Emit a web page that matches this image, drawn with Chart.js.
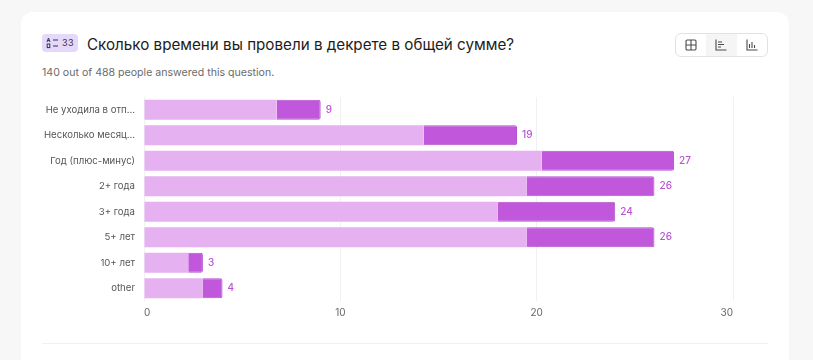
<!DOCTYPE html>
<html lang="ru">
<head>
<meta charset="utf-8">
<title>Сколько времени вы провели в декрете</title>
<script src="https://cdn.jsdelivr.net/npm/chart.js@4"></script>
<style>
    html, body { margin: 0; width: 813px; height: 360px; overflow: hidden; background: #f7f7f7; font-family: Inter, "Noto Sans", sans-serif; }
    .card { position: absolute; left: 21px; top: 12px; width: 768px; height: 360px; background: #fff; border-radius: 12px; }
    .badge { position: absolute; left: 42px; top: 34px; width: 36px; height: 18px; background: #e4d9fb; border-radius: 4px; color: #3a3350; font-size: 9px; line-height: 18px; letter-spacing: 0.4px; }
    .badge svg { position: absolute; left: 4px; top: 3px; }
    .badge span { position: absolute; left: 20px; top: 0; }
    .title { position: absolute; left: 87px; top: 34px; font-size: 15.2px; line-height: 21px; color: #1d1c21; white-space: nowrap; }
    .sub { position: absolute; left: 42px; top: 65px; font-size: 10.6px; line-height: 15px; color: #6b6b6b; white-space: nowrap; }
    .switch { position: absolute; left: 675px; top: 33px; width: 91px; height: 22px; border: 1px solid #e2e2e2; border-radius: 6px; display: flex; overflow: hidden; background: #fff; }
    .switch div { flex: 1; display: flex; align-items: center; justify-content: center; }
    .switch .on { background: #f5f5f5; }
    .rule { position: absolute; left: 42px; top: 343px; width: 726px; height: 1px; background: #f1f1f1; }
    #chartWrap { position: absolute; left: 42px; top: 90px; width: 726px; height: 230px; }
</style>
</head>
<body>
<div class="card"></div>
<div class="badge">
    <svg width="14" height="12" viewBox="0 0 14 12" fill="none" stroke="#3a3350">
        <path d="M1 5 L2.5 1 L4 5 M1.6 3.6 H3.4" stroke-width="1"/>
        <path d="M7 3 H12 M7 9 H12" stroke-width="1.2"/>
        <rect x="1.2" y="7" width="2.6" height="3.6" stroke-width="1"/>
    </svg>
    <span>33</span>
</div>
<div class="title">Сколько времени вы провели в декрете в общей сумме?</div>
<div class="sub">140 out of 488 people answered this question.</div>
<div class="switch">
    <div><svg width="12" height="12" viewBox="0 0 12 12" fill="none" stroke="#4a4a4a" stroke-width="1.1"><rect x="1" y="1" width="10" height="10" rx="1.2"/><path d="M6 1 V11 M1 6 H11"/></svg></div>
    <div class="on"><svg width="12" height="12" viewBox="0 0 12 12" fill="none" stroke="#4a4a4a" stroke-width="1.1"><path d="M1 0.5 V11 H11.5"/><path d="M3 3 H7 M3 5.5 H9 M3 8 H6"/></svg></div>
    <div><svg width="12" height="12" viewBox="0 0 12 12" fill="none" stroke="#4a4a4a" stroke-width="1.1"><path d="M1 0.5 V11 H11.5"/><path d="M3.5 9 V5 M6 9 V3 M8.5 9 V6"/></svg></div>
</div>
<div class="rule"></div>
<div id="chartWrap"><canvas id="answersChart"></canvas></div>

<script>
const categories = ['Не уходила в отп...', 'Несколько месяц...', 'Год (плюс-минус)', '2+ года', '3+ года', '5+ лет', '10+ лет', 'other'];
const lightValues = [6.75, 14.25, 20.25, 19.5, 18, 19.5, 2.25, 3];
const darkValues = [2.25, 4.75, 6.75, 6.5, 6, 6.5, 0.75, 1];
const totals = [9, 19, 27, 26, 24, 26, 3, 4];
const xTicks = [0, 10, 20, 30];

// totals written just past the end of each stack
const totalLabels = {
    id: 'totalLabels',
    afterDatasetsDraw(chart) {
        const ctx = chart.ctx;
        ctx.save();
        ctx.font = '500 10px Inter, sans-serif';
        ctx.fillStyle = '#b952d3';
        ctx.textBaseline = 'middle';
        totals.forEach(function(total, i) {
            const x = chart.scales.x.getPixelForValue(total);
            const y = chart.scales.y.getPixelForValue(i);
            ctx.fillText(total, x + 5, y);
        });
        ctx.restore();
    }
};

new Chart(document.getElementById('answersChart').getContext('2d'), {
    type: 'bar',
    data: {
        labels: categories,
        datasets: [{
            data: lightValues,
            backgroundColor: '#e5b1f1',
            borderWidth: 0
        }, {
            data: darkValues,
            backgroundColor: '#c158dc',
            borderColor: '#b24fcc',
            borderWidth: 1,
            borderSkipped: 'left',
            borderRadius: { topRight: 2, bottomRight: 2 }
        }]
    },
    options: {
        indexAxis: 'y',
        responsive: true,
        maintainAspectRatio: false,
        animation: false,
        layout: { padding: { top: 7, right: 35, left: 0, bottom: 0 } },
        plugins: { legend: { display: false }, tooltip: { enabled: false } },
        datasets: { bar: { categoryPercentage: 1, barPercentage: 0.79 } },
        scales: {
            x: {
                stacked: true,
                min: 0,
                max: 30,
                afterBuildTicks: function(axis) {
                    axis.ticks = xTicks.map(function(v) { return { value: v }; });
                },
                afterFit: function(axis) { axis.height = 19; },
                grid: { color: '#f1f1f1', drawTicks: false },
                border: { display: false },
                ticks: { align: 'inner', maxRotation: 0, padding: 6, color: '#666', font: { family: 'Inter', size: 10 } }
            },
            y: {
                stacked: true,
                afterFit: function(axis) {
                    axis.width = 102;
                    // tick padding otherwise eats into the top of the plot
                    axis.paddingTop = 0;
                    axis.paddingBottom = 0;
                },
                grid: { display: false, drawTicks: false },
                border: { display: false },
                ticks: { padding: 9, autoSkip: false, color: '#555', font: { family: 'Inter', size: 9.6 } }
            }
        }
    },
    plugins: [totalLabels]
});
</script>
</body>
</html>
